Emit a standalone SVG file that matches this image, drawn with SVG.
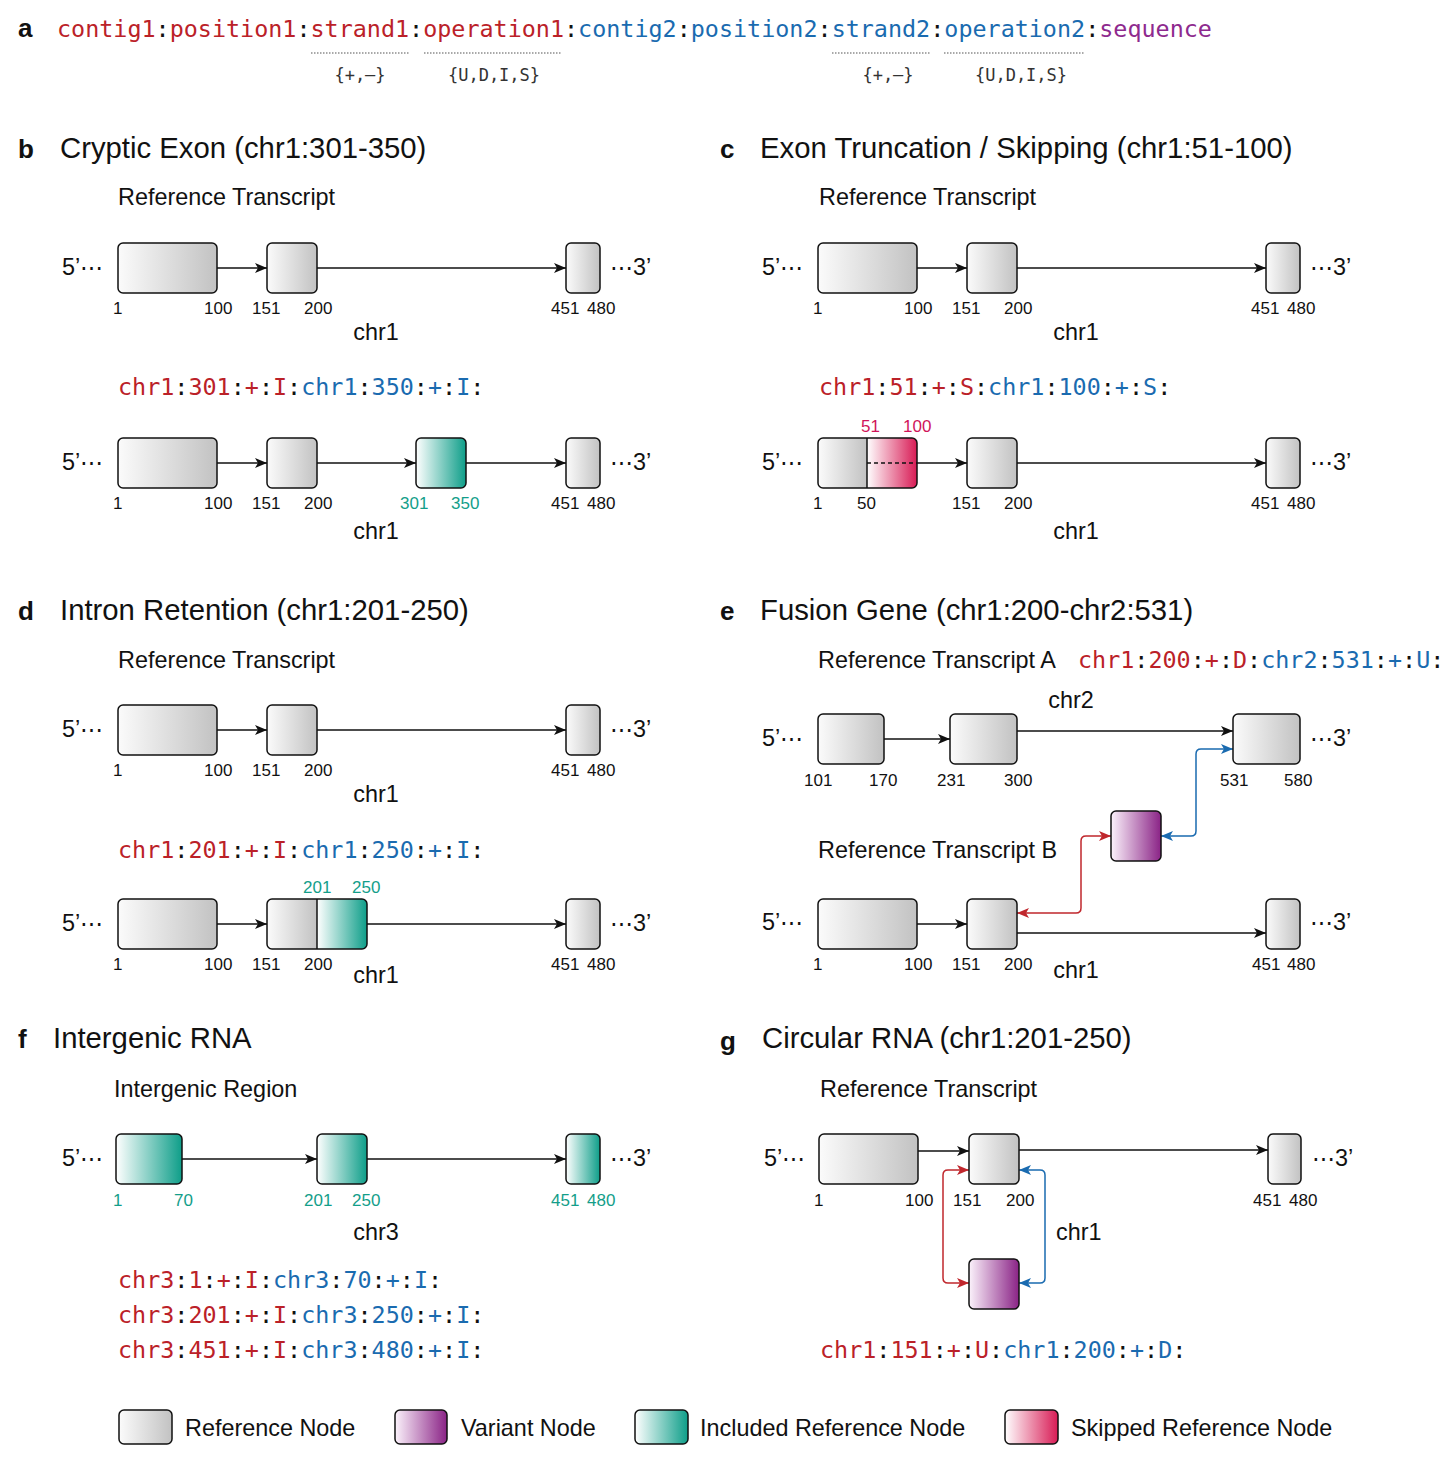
<svg xmlns="http://www.w3.org/2000/svg" width="1456" height="1460" viewBox="0 0 1456 1460">
<style>
.t{font-family:"Liberation Sans",Arial,sans-serif;fill:#111}
.L{font-family:"Liberation Sans",Arial,sans-serif;font-weight:bold;font-size:26px;fill:#111}
.T{font-size:29.3px}
.s{font-size:23.4px}
.n{font-size:17px}
.m{font-family:"DejaVu Sans Mono",monospace;font-size:23.4px;fill:#111}
.ms{font-family:"DejaVu Sans Mono",monospace;font-size:17px;fill:#333}
.r{fill:#bb2128}
.b{fill:#1a6bb0}
.p{fill:#8e2a8e}
.tl{fill:#139e8a}
.cr{fill:#d0145a}
.nd{stroke:#111;stroke-width:1.5}
.g{fill:url(#gGray)}
.te{fill:url(#gTeal)}
.pu{fill:url(#gPurp)}
.pk{fill:url(#gPink)}
.c{fill:none;stroke:#111;stroke-width:1.5}
.ca{marker-end:url(#ab)}
.cr2{fill:none;stroke:#c0272d;stroke-width:1.5;marker-start:url(#ar);marker-end:url(#ar)}
.cb2{fill:none;stroke:#1a6bb0;stroke-width:1.5;marker-start:url(#abl);marker-end:url(#abl)}
.dot{fill:none;stroke:#555;stroke-width:1.2;stroke-dasharray:1.5 1.5}
</style>
<defs>
<linearGradient id="gGray" x1="0" y1="0" x2="1" y2="0"><stop offset="0" stop-color="#fbfbfb"/><stop offset="1" stop-color="#c2c2c2"/></linearGradient>
<linearGradient id="gTeal" x1="0" y1="0" x2="1" y2="0"><stop offset="0" stop-color="#ffffff"/><stop offset="1" stop-color="#0e9e89"/></linearGradient>
<linearGradient id="gPurp" x1="0" y1="0" x2="1" y2="0"><stop offset="0" stop-color="#fbf2fb"/><stop offset="1" stop-color="#8a2386"/></linearGradient>
<linearGradient id="gPink" x1="0" y1="0" x2="1" y2="0"><stop offset="0" stop-color="#ffffff"/><stop offset="1" stop-color="#d81b55"/></linearGradient>
<marker id="ab" viewBox="0 0 12 10" refX="12" refY="5" markerWidth="12" markerHeight="10" markerUnits="userSpaceOnUse" orient="auto-start-reverse"><path d="M0,0 L12,5 L0,10 L3,5 Z" fill="#111"/></marker>
<marker id="ar" viewBox="0 0 12 10" refX="12" refY="5" markerWidth="12" markerHeight="10" markerUnits="userSpaceOnUse" orient="auto-start-reverse"><path d="M0,0 L12,5 L0,10 L3,5 Z" fill="#c0272d"/></marker>
<marker id="abl" viewBox="0 0 12 10" refX="12" refY="5" markerWidth="12" markerHeight="10" markerUnits="userSpaceOnUse" orient="auto-start-reverse"><path d="M0,0 L12,5 L0,10 L3,5 Z" fill="#1a6bb0"/></marker>
</defs>
<rect width="1456" height="1460" fill="#fff"/>

<!-- Panel a -->
<g id="panel-a">
<text class="L" x="18" y="37">a</text>
<text class="m" x="57" y="37"><tspan class="r">contig1</tspan>:<tspan class="r">position1</tspan>:<tspan class="r">strand1</tspan>:<tspan class="r">operation1</tspan>:<tspan class="b">contig2</tspan>:<tspan class="b">position2</tspan>:<tspan class="b">strand2</tspan>:<tspan class="b">operation2</tspan>:<tspan class="p">sequence</tspan></text>
<path class="dot" d="M311,53 H409 M424,53 H562 M832,53 H930 M944,53 H1085"/>
<text class="ms" x="360" y="81" text-anchor="middle">{+,–}</text>
<text class="ms" x="494" y="81" text-anchor="middle">{U,D,I,S}</text>
<text class="ms" x="888" y="81" text-anchor="middle">{+,–}</text>
<text class="ms" x="1021" y="81" text-anchor="middle">{U,D,I,S}</text>
</g>

<!-- Labels -->
<g id="labels">
<text class="L" x="18" y="158">b</text>
<text class="t T" x="60" y="158">Cryptic Exon (chr1:301-350)</text>
<text class="L" x="720" y="158">c</text>
<text class="t T" x="760" y="158">Exon Truncation / Skipping (chr1:51-100)</text>
<text class="L" x="18" y="620">d</text>
<text class="t T" x="60" y="620">Intron Retention (chr1:201-250)</text>
<text class="L" x="720" y="620">e</text>
<text class="t T" x="760" y="620">Fusion Gene (chr1:200-chr2:531)</text>
<text class="L" x="18" y="1048">f</text>
<text class="t T" x="53" y="1048">Intergenic RNA</text>
<text class="L" x="720" y="1050">g</text>
<text class="t T" x="762" y="1048">Circular RNA (chr1:201-250)</text>

<text class="t s" x="118" y="205">Reference Transcript</text>
<text class="t s" x="819" y="205">Reference Transcript</text>
<text class="t s" x="118" y="668">Reference Transcript</text>
<text class="t s" x="818" y="668">Reference Transcript A</text>
<text class="t s" x="818" y="858">Reference Transcript B</text>
<text class="t s" x="114" y="1097">Intergenic Region</text>
<text class="t s" x="820" y="1097">Reference Transcript</text>

<!-- 5' / 3' -->
<g class="t s">
<text x="62" y="275">5’⋯</text><text x="610" y="275">⋯3’</text>
<text x="62" y="470">5’⋯</text><text x="610" y="470">⋯3’</text>
<text x="762" y="275">5’⋯</text><text x="1310" y="275">⋯3’</text>
<text x="762" y="470">5’⋯</text><text x="1310" y="470">⋯3’</text>
<text x="62" y="737">5’⋯</text><text x="610" y="737">⋯3’</text>
<text x="62" y="931">5’⋯</text><text x="610" y="931">⋯3’</text>
<text x="762" y="746">5’⋯</text><text x="1310" y="746">⋯3’</text>
<text x="762" y="930">5’⋯</text><text x="1310" y="930">⋯3’</text>
<text x="62" y="1166">5’⋯</text><text x="610" y="1166">⋯3’</text>
<text x="764" y="1166">5’⋯</text><text x="1312" y="1166">⋯3’</text>
</g>

<!-- chr labels -->
<g class="t s" text-anchor="middle">
<text x="376" y="340">chr1</text>
<text x="376" y="539">chr1</text>
<text x="1076" y="340">chr1</text>
<text x="1076" y="539">chr1</text>
<text x="376" y="802">chr1</text>
<text x="376" y="983">chr1</text>
<text x="1071" y="708">chr2</text>
<text x="1076" y="978">chr1</text>
<text x="376" y="1240">chr3</text>
</g>
<text class="t s" x="1056" y="1240">chr1</text>

<!-- numbers -->
<g class="t n">
<text x="113" y="314">1</text><text x="204" y="314">100</text><text x="252" y="314">151</text><text x="304" y="314">200</text><text x="551" y="314">451</text><text x="587" y="314">480</text>
<text x="113" y="509">1</text><text x="204" y="509">100</text><text x="252" y="509">151</text><text x="304" y="509">200</text><text x="551" y="509">451</text><text x="587" y="509">480</text>
<text class="tl" x="400" y="509">301</text><text class="tl" x="451" y="509">350</text>

<text x="813" y="314">1</text><text x="904" y="314">100</text><text x="952" y="314">151</text><text x="1004" y="314">200</text><text x="1251" y="314">451</text><text x="1287" y="314">480</text>
<text x="813" y="509">1</text><text x="857" y="509">50</text><text x="952" y="509">151</text><text x="1004" y="509">200</text><text x="1251" y="509">451</text><text x="1287" y="509">480</text>
<text class="cr" x="861" y="432">51</text><text class="cr" x="903" y="432">100</text>

<text x="113" y="776">1</text><text x="204" y="776">100</text><text x="252" y="776">151</text><text x="304" y="776">200</text><text x="551" y="776">451</text><text x="587" y="776">480</text>
<text x="113" y="970">1</text><text x="204" y="970">100</text><text x="252" y="970">151</text><text x="304" y="970">200</text><text x="551" y="970">451</text><text x="587" y="970">480</text>
<text class="tl" x="303" y="893">201</text><text class="tl" x="352" y="893">250</text>

<text x="804" y="786">101</text><text x="869" y="786">170</text><text x="937" y="786">231</text><text x="1004" y="786">300</text><text x="1220" y="786">531</text><text x="1284" y="786">580</text>
<text x="813" y="970">1</text><text x="904" y="970">100</text><text x="952" y="970">151</text><text x="1004" y="970">200</text><text x="1252" y="970">451</text><text x="1287" y="970">480</text>

<text class="tl" x="113" y="1206">1</text><text class="tl" x="174" y="1206">70</text><text class="tl" x="304" y="1206">201</text><text class="tl" x="352" y="1206">250</text><text class="tl" x="551" y="1206">451</text><text class="tl" x="587" y="1206">480</text>

<text x="814" y="1206">1</text><text x="905" y="1206">100</text><text x="953" y="1206">151</text><text x="1006" y="1206">200</text><text x="1253" y="1206">451</text><text x="1289" y="1206">480</text>
</g>

<!-- event strings -->
<text class="m" x="118" y="395"><tspan class="r">chr1</tspan>:<tspan class="r">301</tspan>:<tspan class="r">+</tspan>:<tspan class="r">I</tspan>:<tspan class="b">chr1</tspan>:<tspan class="b">350</tspan>:<tspan class="b">+</tspan>:<tspan class="b">I</tspan>:</text>
<text class="m" x="819" y="395"><tspan class="r">chr1</tspan>:<tspan class="r">51</tspan>:<tspan class="r">+</tspan>:<tspan class="r">S</tspan>:<tspan class="b">chr1</tspan>:<tspan class="b">100</tspan>:<tspan class="b">+</tspan>:<tspan class="b">S</tspan>:</text>
<text class="m" x="118" y="858"><tspan class="r">chr1</tspan>:<tspan class="r">201</tspan>:<tspan class="r">+</tspan>:<tspan class="r">I</tspan>:<tspan class="b">chr1</tspan>:<tspan class="b">250</tspan>:<tspan class="b">+</tspan>:<tspan class="b">I</tspan>:</text>
<text class="m" x="1078" y="668"><tspan class="r">chr1</tspan>:<tspan class="r">200</tspan>:<tspan class="r">+</tspan>:<tspan class="r">D</tspan>:<tspan class="b">chr2</tspan>:<tspan class="b">531</tspan>:<tspan class="b">+</tspan>:<tspan class="b">U</tspan>:</text>
<text class="m" x="118" y="1288"><tspan class="r">chr3</tspan>:<tspan class="r">1</tspan>:<tspan class="r">+</tspan>:<tspan class="r">I</tspan>:<tspan class="b">chr3</tspan>:<tspan class="b">70</tspan>:<tspan class="b">+</tspan>:<tspan class="b">I</tspan>:</text>
<text class="m" x="118" y="1323"><tspan class="r">chr3</tspan>:<tspan class="r">201</tspan>:<tspan class="r">+</tspan>:<tspan class="r">I</tspan>:<tspan class="b">chr3</tspan>:<tspan class="b">250</tspan>:<tspan class="b">+</tspan>:<tspan class="b">I</tspan>:</text>
<text class="m" x="118" y="1358"><tspan class="r">chr3</tspan>:<tspan class="r">451</tspan>:<tspan class="r">+</tspan>:<tspan class="r">I</tspan>:<tspan class="b">chr3</tspan>:<tspan class="b">480</tspan>:<tspan class="b">+</tspan>:<tspan class="b">I</tspan>:</text>
<text class="m" x="820" y="1358"><tspan class="r">chr1</tspan>:<tspan class="r">151</tspan>:<tspan class="r">+</tspan>:<tspan class="r">U</tspan>:<tspan class="b">chr1</tspan>:<tspan class="b">200</tspan>:<tspan class="b">+</tspan>:<tspan class="b">D</tspan>:</text>
</g>

<!-- Connectors -->
<g id="connectors">
<path class="c ca" d="M217,268 H267"/><path class="c ca" d="M317,268 H566"/>
<path class="c ca" d="M217,463 H267"/><path class="c ca" d="M317,463 H416"/><path class="c ca" d="M466,463 H566"/>
<path class="c ca" d="M917,268 H967"/><path class="c ca" d="M1017,268 H1266"/>
<path class="c ca" d="M917,463 H967"/><path class="c ca" d="M1017,463 H1266"/>
<path class="c ca" d="M217,730 H267"/><path class="c ca" d="M317,730 H566"/>
<path class="c ca" d="M217,924 H267"/><path class="c ca" d="M367,924 H566"/>
<path class="c ca" d="M884,739 H950"/><path class="c ca" d="M1017,731 H1233"/>
<path class="cb2" d="M1233,749 H1201 Q1196,749 1196,754 V831 Q1196,836 1191,836 H1161"/>
<path class="cr2" d="M1111,836 H1086 Q1081,836 1081,841 V908 Q1081,913 1076,913 H1017"/>
<path class="c ca" d="M917,924 H967"/><path class="c ca" d="M1017,933 H1266"/>
<path class="c ca" d="M182,1159 H317"/><path class="c ca" d="M367,1159 H566"/>
<path class="c ca" d="M918,1151 H969"/><path class="c ca" d="M1019,1150 H1268"/>
<path class="cr2" d="M969,1170 H948 Q943,1170 943,1175 V1278 Q943,1283 948,1283 H969"/>
<path class="cb2" d="M1019,1170 H1040 Q1045,1170 1045,1175 V1278 Q1045,1283 1040,1283 H1019"/>
</g>

<!-- Nodes -->
<g id="nodes-b">
<rect id="b1" class="nd g" x="118" y="243" width="99" height="50" rx="5"/>
<rect id="b2" class="nd g" x="267" y="243" width="50" height="50" rx="5"/>
<rect id="b3" class="nd g" x="566" y="243" width="34" height="50" rx="5"/>
<rect id="b4" class="nd g" x="118" y="438" width="99" height="50" rx="5"/>
<rect id="b5" class="nd g" x="267" y="438" width="50" height="50" rx="5"/>
<rect id="b6" class="nd te" x="416" y="438" width="50" height="50" rx="5"/>
<rect id="b7" class="nd g" x="566" y="438" width="34" height="50" rx="5"/>
</g>
<g id="nodes-c">
<rect id="c1" class="nd g" x="818" y="243" width="99" height="50" rx="5"/>
<rect id="c2" class="nd g" x="967" y="243" width="50" height="50" rx="5"/>
<rect id="c3" class="nd g" x="1266" y="243" width="34" height="50" rx="5"/>
<g id="c4">
<path class="g" d="M823,438 H867 V488 H823 Q818,488 818,483 V443 Q818,438 823,438 Z"/>
<path class="pk" d="M867,438 H912 Q917,438 917,443 V483 Q917,488 912,488 H867 Z"/>
<path class="c" d="M867,463 H917" stroke-dasharray="4 3"/>
<line x1="867" y1="438" x2="867" y2="488" stroke="#111" stroke-width="1.5"/>
<rect class="nd" fill="none" x="818" y="438" width="99" height="50" rx="5"/>
</g>
<rect id="c5" class="nd g" x="967" y="438" width="50" height="50" rx="5"/>
<rect id="c6" class="nd g" x="1266" y="438" width="34" height="50" rx="5"/>
</g>
<g id="nodes-d">
<rect id="d1" class="nd g" x="118" y="705" width="99" height="50" rx="5"/>
<rect id="d2" class="nd g" x="267" y="705" width="50" height="50" rx="5"/>
<rect id="d3" class="nd g" x="566" y="705" width="34" height="50" rx="5"/>
<rect id="d4" class="nd g" x="118" y="899" width="99" height="50" rx="5"/>
<g id="d5">
<path class="g" d="M272,899 H317 V949 H272 Q267,949 267,944 V904 Q267,899 272,899 Z"/>
<path class="te" d="M317,899 H362 Q367,899 367,904 V944 Q367,949 362,949 H317 Z"/>
<line x1="317" y1="899" x2="317" y2="949" stroke="#111" stroke-width="1.5"/>
<rect class="nd" fill="none" x="267" y="899" width="100" height="50" rx="5"/>
</g>
<rect id="d6" class="nd g" x="566" y="899" width="34" height="50" rx="5"/>
</g>
<g id="nodes-e">
<rect id="e1" class="nd g" x="818" y="714" width="66" height="50" rx="5"/>
<rect id="e2" class="nd g" x="950" y="714" width="67" height="50" rx="5"/>
<rect id="e3" class="nd g" x="1233" y="714" width="67" height="50" rx="5"/>
<rect id="e4" class="nd pu" x="1111" y="811" width="50" height="50" rx="5"/>
<rect id="e5" class="nd g" x="818" y="899" width="99" height="50" rx="5"/>
<rect id="e6" class="nd g" x="967" y="899" width="50" height="50" rx="5"/>
<rect id="e7" class="nd g" x="1266" y="899" width="34" height="50" rx="5"/>
</g>
<g id="nodes-f">
<rect id="f1" class="nd te" x="116" y="1134" width="66" height="50" rx="5"/>
<rect id="f2" class="nd te" x="317" y="1134" width="50" height="50" rx="5"/>
<rect id="f3" class="nd te" x="566" y="1134" width="34" height="50" rx="5"/>
</g>
<g id="nodes-g">
<rect id="g1" class="nd g" x="819" y="1134" width="99" height="50" rx="5"/>
<rect id="g2" class="nd g" x="969" y="1134" width="50" height="50" rx="5"/>
<rect id="g3" class="nd g" x="1268" y="1134" width="33" height="50" rx="5"/>
<rect id="g4" class="nd pu" x="969" y="1259" width="50" height="50" rx="5"/>
</g>

<!-- Legend -->
<g id="legend">
<rect class="nd g" x="119" y="1410" width="53" height="34" rx="5"/>
<text class="t s" x="185" y="1436">Reference Node</text>
<rect class="nd pu" x="395" y="1410" width="52" height="34" rx="5"/>
<text class="t s" x="461" y="1436">Variant Node</text>
<rect class="nd te" x="635" y="1410" width="53" height="34" rx="5"/>
<text class="t s" x="700" y="1436">Included Reference Node</text>
<rect class="nd pk" x="1005" y="1410" width="53" height="34" rx="5"/>
<text class="t s" x="1071" y="1436">Skipped Reference Node</text>
</g>
</svg>
